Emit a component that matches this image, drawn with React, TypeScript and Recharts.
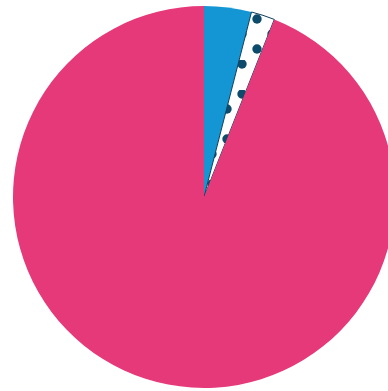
import React from 'react';
import { PieChart, Pie, Cell } from 'recharts';

// slice data, clockwise from 12 o'clock
const LABELS = ['A', 'B', 'C'];
const VALUES = [4, 2, 94];
const FILLS = ['#1496d4', 'url(#dots)', '#e6397a'];
const STROKES = ['none', '#0d3d5c', 'none'];

const data = LABELS.map((name, i) => ({ name, value: VALUES[i] }));

export default function App() {
  return (
    <div style={{ position: 'absolute', left: 0, top: 0, width: 388, height: 391, overflow: 'hidden' }}>
      <PieChart width={388} height={391} margin={{ top: 0, right: 0, bottom: 0, left: 0 }}>
        <defs>
          {/* staggered dot grid for the small slice */}
          <pattern id="dots" patternUnits="userSpaceOnUse" width="30" height="30">
            <rect width="30" height="30" fill="#ffffff" />
            <circle cx="17" cy="19" r="4.7" fill="#0d4b6c" />
            <circle cx="2" cy="4" r="4.7" fill="#0d4b6c" />
            <circle cx="32" cy="4" r="4.7" fill="#0d4b6c" />
          </pattern>
        </defs>
        <Pie
          data={data}
          dataKey="value"
          cx={204}
          cy={197}
          outerRadius={191}
          startAngle={90}
          endAngle={-270}
          isAnimationActive={false}
          label={false}
          labelLine={false}
        >
          {data.map((entry, i) => (
            <Cell key={`cell-${i}`} fill={FILLS[i]} stroke={STROKES[i]} strokeWidth={1} />
          ))}
        </Pie>
      </PieChart>
    </div>
  );
}
